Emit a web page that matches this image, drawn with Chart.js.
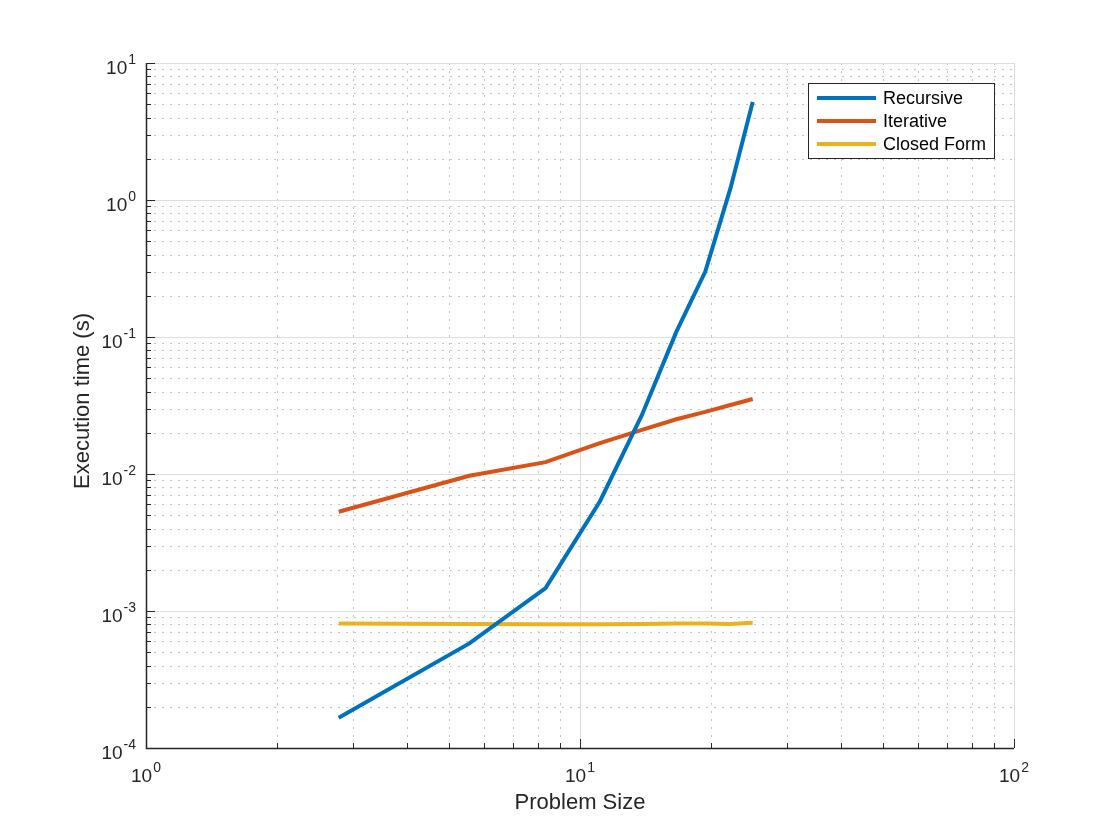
<!DOCTYPE html>
<html>
<head>
<meta charset="utf-8">
<script src="https://cdn.jsdelivr.net/npm/chart.js@4.4.1/dist/chart.umd.min.js"></script>
<style>
    html, body { margin: 0; padding: 0; background: #fff; }
</style>
</head>
<body>
<canvas id="chartTime" width="1120" height="840"></canvas>
<script>
// Execution time vs problem size (log-log)

const problemSize = [2.78, 5.56, 8.33, 11.11, 13.89, 16.67, 19.44, 22.22, 25];
const recursiveTime = [1.66e-4, 5.8e-4, 1.47e-3, 6.3e-3, 2.7e-2, 0.109, 0.30, 1.22, 5.2];
const iterativeTime = [5.3e-3, 9.7e-3, 1.22e-2, 1.68e-2, 2.1e-2, 2.51e-2, 2.84e-2, 3.19e-2, 3.53e-2];
const closedFormTime = [8.1e-4, 8.05e-4, 8.0e-4, 8.0e-4, 8.05e-4, 8.1e-4, 8.1e-4, 8.05e-4, 8.2e-4];

const seriesNames = ["Recursive", "Iterative", "Closed Form"];
const seriesColors = ["#0072BD", "#D95319", "#EDB120"];

const xDecades = [0, 1, 2];          // tick labels 10^0 .. 10^2
const yDecades = [-4, -3, -2, -1, 0, 1];
const xTitle = "Problem Size";
const yTitle = "Execution time (s)";

const FONT = '"Liberation Sans", Arial, Helvetica, sans-serif';
const TEXT = "#262626";

// walk every decade value (major) and the 2..9 in between (minor)
forEachLogTick = (decades, cb) => {
    const last = decades[decades.length - 1];
    decades.forEach((d) => {
        for (let m = 1; m <= 9; m++) {
            if (d === last && m > 1) break;
            cb(m * Math.pow(10, d), m === 1, d);
        }
    });
};

drawPower = (ctx, exp, x, y, align, big, small, raise) => {
    ctx.font = big + "px " + FONT;
    const wBase = ctx.measureText("10").width;
    ctx.font = small + "px " + FONT;
    const wExp = ctx.measureText(String(exp)).width;
    const total = wBase + 1 + wExp;
    let left = align === "right" ? x - total : x - total / 2;
    ctx.textAlign = "left";
    ctx.textBaseline = "alphabetic";
    ctx.font = big + "px " + FONT;
    ctx.fillText("10", left, y);
    ctx.font = small + "px " + FONT;
    ctx.fillText(String(exp), left + wBase + 1, y - raise);
};

const logAxes = {
    id: "logAxes",
    beforeDatasetsDraw(chart) {
        const { ctx, chartArea: a, scales: { x, y } } = chart;
        ctx.save();
        ctx.lineWidth = 1;
        forEachLogTick(xDecades, (v, major) => {
            const px = Math.round(x.getPixelForValue(v)) + 0.5;
            ctx.strokeStyle = major ? "#dedede" : "#c4c4c4";
            ctx.setLineDash(major ? [] : [2, 6]);
            ctx.beginPath();
            ctx.moveTo(px, a.top);
            ctx.lineTo(px, a.bottom);
            ctx.stroke();
        });
        forEachLogTick(yDecades, (v, major) => {
            const py = Math.round(y.getPixelForValue(v)) + 0.5;
            ctx.strokeStyle = major ? "#dedede" : "#c4c4c4";
            ctx.setLineDash(major ? [] : [2, 6]);
            ctx.beginPath();
            ctx.moveTo(a.left, py);
            ctx.lineTo(a.right, py);
            ctx.stroke();
        });
        ctx.restore();
    },
    afterDatasetsDraw(chart) {
        const { ctx, chartArea: a, scales: { x, y } } = chart;
        ctx.save();
        ctx.strokeStyle = TEXT;
        ctx.fillStyle = TEXT;
        ctx.lineWidth = 1;

        // ticks, inward
        forEachLogTick(xDecades, (v, major) => {
            const px = Math.round(x.getPixelForValue(v)) + 0.5;
            ctx.beginPath();
            ctx.moveTo(px, a.bottom);
            ctx.lineTo(px, a.bottom - (major ? 9 : 5));
            ctx.stroke();
        });
        forEachLogTick(yDecades, (v, major) => {
            const py = Math.round(y.getPixelForValue(v)) + 0.5;
            ctx.beginPath();
            ctx.moveTo(a.left, py);
            ctx.lineTo(a.left + (major ? 9 : 5), py);
            ctx.stroke();
        });

        // axis lines
        ctx.lineWidth = 1.5;
        ctx.beginPath();
        ctx.moveTo(Math.round(a.left) + 0.5, a.top);
        ctx.lineTo(Math.round(a.left) + 0.5, Math.round(a.bottom) + 0.5);
        ctx.lineTo(a.right, Math.round(a.bottom) + 0.5);
        ctx.stroke();

        // tick labels
        forEachLogTick(xDecades, (v, major, d) => {
            if (!major) return;
            drawPower(ctx, d, x.getPixelForValue(v), a.bottom + 34, "center", 19, 14, 10);
        });
        forEachLogTick(yDecades, (v, major, d) => {
            if (!major) return;
            drawPower(ctx, d, a.left - 10, y.getPixelForValue(v) + 10.5, "right", 19, 14, 10);
        });

        // axis titles
        ctx.font = "22px " + FONT;
        ctx.textAlign = "center";
        ctx.textBaseline = "alphabetic";
        ctx.fillText(xTitle, (a.left + a.right) / 2, 809);
        ctx.save();
        ctx.translate(89, 401);
        ctx.rotate(-Math.PI / 2);
        ctx.fillText(yTitle, 0, 0);
        ctx.restore();

        // legend
        const lx = 808.5, ly = 83.5, lw = 186, lh = 75;
        ctx.fillStyle = "#fff";
        ctx.fillRect(lx, ly, lw, lh);
        ctx.strokeStyle = TEXT;
        ctx.lineWidth = 1;
        ctx.strokeRect(lx, ly, lw, lh);
        ctx.font = "18px " + FONT;
        ctx.textAlign = "left";
        ctx.textBaseline = "middle";
        seriesNames.forEach((name, i) => {
            const ry = 98 + i * 23;
            ctx.strokeStyle = seriesColors[i];
            ctx.lineWidth = 4;
            ctx.beginPath();
            ctx.moveTo(817, ry);
            ctx.lineTo(876, ry);
            ctx.stroke();
            ctx.fillStyle = "#000";
            ctx.fillText(name, 883, ry + 1);
        });
        ctx.restore();
    },
};

toPoints = (values) => problemSize.map((v, i) => ({ x: v, y: values[i] }));

setupChart = () => {
    const seriesValues = [recursiveTime, iterativeTime, closedFormTime];

    const config = {
        type: "line",
        data: {
            datasets: seriesNames.map((name, i) => ({
                label: name,
                data: toPoints(seriesValues[i]),
                borderColor: seriesColors[i],
                borderWidth: 4,
                pointRadius: 0,
                fill: false,
                tension: 0,
            })),
        },
        options: {
            responsive: false,
            animation: false,
            devicePixelRatio: 1,
            layout: { padding: { left: 146, right: 106, top: 63, bottom: 92 } },
            plugins: {
                legend: { display: false },
                tooltip: { enabled: false },
            },
            scales: {
                x: { type: "logarithmic", min: 1, max: 100, display: false },
                y: { type: "logarithmic", min: 1e-4, max: 10, display: false },
            },
        },
        plugins: [logAxes],
    };

    new Chart(document.getElementById("chartTime"), config);
};

setupChart();
</script>
</body>
</html>
